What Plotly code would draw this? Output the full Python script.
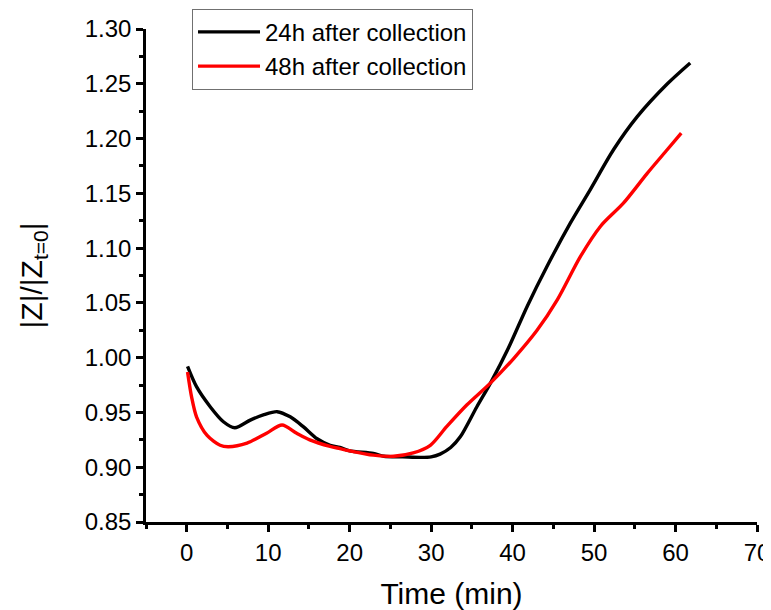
import plotly.graph_objects as go

# 24h after collection
t24 = [0.1, 1.2, 2.9, 4.5, 5.9, 7.8, 9.4, 11.1, 12.7, 14.3, 16.0, 17.6, 18.8, 20.0, 22.9,
       24.2, 26.5, 28.7, 30.0, 31.1, 32.4, 33.6, 35.6, 37.3, 39.5, 41.8, 44.2, 47.1,
       49.5, 52.4, 55.3, 59.0, 61.8]
v24 = [0.992, 0.9735, 0.955, 0.9415, 0.936, 0.943, 0.9477, 0.9507, 0.946, 0.937, 0.926,
       0.920, 0.918, 0.915, 0.9127, 0.910, 0.9095, 0.909, 0.9095, 0.912, 0.918, 0.928,
       0.955, 0.977, 1.009, 1.047, 1.083, 1.123, 1.153, 1.190, 1.220, 1.250, 1.269]

# 48h after collection
t48 = [0.1, 0.6, 1.2, 2.5, 4.1, 5.1, 7.4, 9.8, 11.7, 13.5, 15.1, 17.6, 18.8, 20.0, 22.9,
       25.4, 27.8, 29.9, 31.9, 34.4, 37.3, 40.1, 43.0, 45.5, 48.3, 50.8, 53.6, 56.5,
       59.0, 60.7]
v48 = [0.987, 0.964, 0.946, 0.929, 0.920, 0.9187, 0.922, 0.931, 0.9385, 0.931, 0.925,
       0.919, 0.917, 0.915, 0.911, 0.910, 0.913, 0.920, 0.937, 0.957, 0.977, 0.999,
       1.025, 1.053, 1.092, 1.120, 1.141, 1.168, 1.190, 1.205]

names = ["24h after collection", "48h after collection"]
colors = ["#000000", "#ff0000"]

fig = go.Figure()
for t, v, n, c in [(t24, v24, names[0], colors[0]), (t48, v48, names[1], colors[1])]:
    fig.add_trace(go.Scatter(x=t, y=v, mode="lines", name=n,
                             line=dict(color=c, width=3.4, shape="spline", smoothing=0.8)))

font_family = "Liberation Sans, Arial, sans-serif"
fig.update_layout(
    width=763, height=602,
    margin=dict(l=138, r=14, t=21, b=88, autoexpand=False),
    plot_bgcolor="white", paper_bgcolor="white",
    font=dict(family=font_family, color="black", size=24),
    showlegend=True,
    legend=dict(x=0.0753, y=1.041, xanchor="left", yanchor="top",
                bordercolor="#707070", borderwidth=1, bgcolor="white",
                font=dict(size=24, family=font_family), itemwidth=62,
                tracegroupgap=0),
)
fig.update_xaxes(
    range=[-5, 70], tickmode="linear", tick0=0, dtick=10, automargin=False,
    showline=True, linecolor="black", linewidth=2.5, mirror=False,
    ticks="outside", ticklen=7, tickwidth=2.5, tickcolor="black",
    minor=dict(dtick=5, tick0=0, ticks="outside", ticklen=4, tickwidth=2.5, tickcolor="black"),
    showgrid=False, zeroline=False,
    tickfont=dict(size=24),
    title=dict(text="Time (min)", font=dict(size=30), standoff=20),
)
fig.update_yaxes(
    range=[0.85, 1.30], tickmode="linear", tick0=0.85, dtick=0.05, tickformat=".2f",
    automargin=False,
    showline=True, linecolor="black", linewidth=2.5, mirror=False,
    ticks="outside", ticklen=7, tickwidth=2.5, tickcolor="black",
    minor=dict(dtick=0.025, tick0=0.85, ticks="outside", ticklen=4, tickwidth=2.5, tickcolor="black"),
    showgrid=False, zeroline=False,
    tickfont=dict(size=24),
    title=dict(text="|Z|/|Z<sub>t=0</sub>|", font=dict(size=30), standoff=34),
)

fig.write_html("out.html")
